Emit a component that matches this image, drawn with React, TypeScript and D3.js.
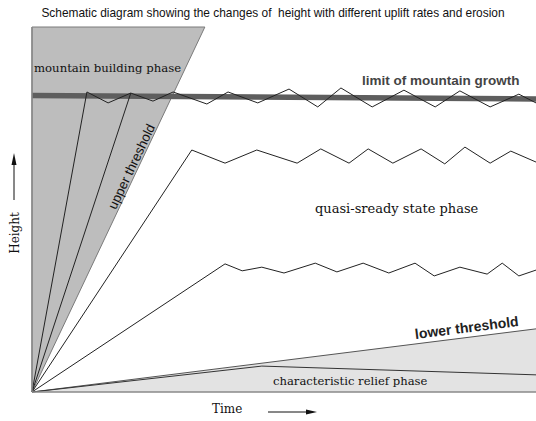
import React from 'react';
import * as d3 from 'd3';

// schematic values: time (0..100) and height (0..100)
const titleText = 'Schematic diagram showing the changes of  height with different uplift rates and erosion';

const fastLineA: [number, number][] = [[0, 0], [19.6, 81.9]];
const upperThreshold: [number, number][] = [[0, 0], [34.3, 100]];
const limitBand: [number, number][] = [[0, 81.2], [100, 80.3]];
const lowerThreshold: [number, number][] = [[0, 0], [100, 17.3]];
const reliefLine: [number, number][] = [[0, 0], [45.6, 7.1], [100, 4.7]];

const topZigzag: [number, number][] = [
    [0, 0], [10.9, 82.2], [15.1, 79.2], [19.6, 81.9], [24.0, 79.7], [28.0, 82.2],
    [34.7, 78.9], [38.9, 82.2], [44.8, 79.2], [51.0, 83.0], [56.7, 78.1],
    [61.3, 83.3], [67.5, 78.1], [73.8, 82.7], [80.0, 78.1], [84.9, 82.5],
    [90.9, 78.1], [96.6, 81.6], [100, 79.2],
];

const midZigzag: [number, number][] = [
    [0, 0], [31.7, 66.3], [38.3, 62.7], [44.6, 66.3], [52.6, 62.7], [57.3, 66.6],
    [62.9, 62.7], [66.7, 66.6], [71.6, 62.7], [77.2, 66.6], [81.9, 62.5],
    [85.9, 67.1], [90.9, 62.7], [95.0, 66.0], [100, 63.0],
];

const lowZigzag: [number, number][] = [
    [0, 0], [38.3, 35.1], [41.7, 33.2], [45.6, 34.2], [50.0, 32.6], [56.2, 35.3],
    [60.5, 32.9], [65.7, 35.3], [70.8, 32.6], [76.0, 35.3], [79.8, 31.8],
    [84.9, 34.2], [90.3, 32.3], [93.3, 35.3], [96.6, 31.8], [100, 33.4],
];

const W = 536;
const H = 421;

const App: React.FC = () => {
    const x = d3.scaleLinear().domain([0, 100]).range([32, 536]);
    const y = d3.scaleLinear().domain([0, 100]).range([392, 27]);

    const line = d3.line<[number, number]>()
        .x(d => x(d[0]))
        .y(d => y(d[1]));

    // dark region: between left axis and the upper threshold
    const darkArea: [number, number][] = [[0, 0], [0, 100], upperThreshold[1], [0, 0]];
    // light region below the lower threshold
    const lightArea: [number, number][] = [[0, 0], lowerThreshold[1], [100, 0], [0, 0]];

    const serif = '"DejaVu Serif", serif';
    const sans = '"Liberation Sans", Arial, sans-serif';

    // angle and placement along threshold lines
    const angleOf = (p: [number, number][]) => {
        const dx = x(p[1][0]) - x(p[0][0]);
        const dy = y(p[1][1]) - y(p[0][1]);
        return (Math.atan2(dy, dx) * 180) / Math.PI;
    };
    const upAngle = angleOf(upperThreshold);
    const lowAngle = angleOf(lowerThreshold);

    const pointOn = (p: [number, number][], frac: number, off: number, ang: number) => {
        const px = x(p[0][0]) + (x(p[1][0]) - x(p[0][0])) * frac;
        const py = y(p[0][1]) + (y(p[1][1]) - y(p[0][1])) * frac;
        const r = (ang * Math.PI) / 180;
        // normal pointing to the upper/left side of the line
        return [px + Math.sin(r) * off, py - Math.cos(r) * off];
    };
    const upPos = pointOn(upperThreshold, 0.61, 2, upAngle);
    const lowPos = pointOn(lowerThreshold, 0.865, 5, lowAngle);

    return (
        <svg width={W} height={H} style={{ position: 'absolute', left: 0, top: 0, background: '#fff' }}>
            <text x={273} y={17} textAnchor="middle" fontFamily={sans} fontSize={11.9} fill="#111"
                style={{ whiteSpace: 'pre' }}>
                {titleText}
            </text>

            <path d={line(darkArea) ?? ''} fill="#bdbdbd" stroke="#7a7a7a" strokeWidth={1} />
            <path d={line(lightArea) ?? ''} fill="#e3e3e3" stroke="none" />

            <path d={line(limitBand) ?? ''} stroke="#5e5e5e" strokeWidth={5.5} fill="none" />

            <path d={line(lowerThreshold) ?? ''} stroke="#555" strokeWidth={1} fill="none" />
            <path d={line(reliefLine) ?? ''} stroke="#333" strokeWidth={1} fill="none" />

            {[fastLineA, topZigzag, midZigzag, lowZigzag].map((s, i) => (
                <path key={i} d={line(s) ?? ''} stroke="#222" strokeWidth={1} fill="none" strokeLinejoin="miter" />
            ))}

            {/* frame */}
            <line x1={x(0)} x2={x(0)} y1={y(100)} y2={y(0)} stroke="#8a8a8a" strokeWidth={1.5} />
            <line x1={x(0)} x2={x(100)} y1={y(0)} y2={y(0)} stroke="#8a8a8a" strokeWidth={1.5} />

            <text x={34} y={72} fontFamily={serif} fontSize={11.7} fill="#111">mountain building phase</text>
            <text x={362} y={85} fontFamily={sans} fontSize={13.5} fontWeight="bold" fill="#444">limit of mountain growth</text>
            <text x={315} y={213} fontFamily={serif} fontSize={13} fill="#111">quasi-sready state phase</text>
            <text x={273} y={385} fontFamily={serif} fontSize={11.6} fill="#111">characteristic relief phase</text>

            <text x={upPos[0]} y={upPos[1]} transform={`rotate(${upAngle},${upPos[0]},${upPos[1]})`}
                textAnchor="middle" fontFamily={sans} fontSize={13.3} fill="#111">upper threshold</text>
            <text x={lowPos[0]} y={lowPos[1]} transform={`rotate(${lowAngle},${lowPos[0]},${lowPos[1]})`}
                textAnchor="middle" fontFamily={sans} fontSize={14} fontWeight="bold" fill="#222">lower threshold</text>

            {/* axis titles */}
            <text x={212} y={413} fontFamily={serif} fontSize={12} fill="#111">Time</text>
            <line x1={268} x2={308} y1={412} y2={412} stroke="#111" strokeWidth={1} />
            <path d="M306,409.5 L317,412 L306,414.5 Z" fill="#111" />

            <text x={0} y={0} transform="translate(19,233) rotate(-90)" textAnchor="middle"
                fontFamily={serif} fontSize={12} fill="#111">Height</text>
            <line x1={14} x2={14} y1={200} y2={163} stroke="#111" strokeWidth={1} />
            <path d="M11.5,165 L14,153 L16.5,165 Z" fill="#111" />
        </svg>
    );
};

export default App;
